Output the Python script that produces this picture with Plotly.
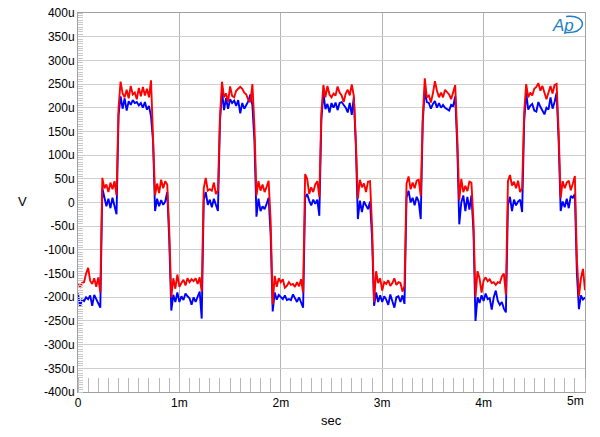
import plotly.graph_objects as go

# time step between samples (ms) and sample times
dt_ms = 0.02
n_samples = 251
t_ms = [round(i * dt_ms, 4) for i in range(n_samples)]

# Red trace (µV), read period by period
red_uV = [
    # period 1
    -172, -178, -170, -168, -150, -138, -165, -172, -160, -178, -158, -190,
    52, 30, 38, 22, 42, 28, 45, 15,
    200, 255, 230, 222, 238, 220, 246, 228, 232, 218, 242, 224, 244, 226, 240, 222, 258,
    150,
    15, 40, 20, 48, 30, 45, 38,
    -60, -200, -160, -182, -152,
    # period 2
    -178, -170, -163, -175, -160, -168, -162, -166, -160, -172, -158, -188,
    30, 52, 25, 28, 25, 42, 18, 25,
    180, 255, 222, 230, 212, 245, 225, 222, 236, 240, 244, 240, 232, 228, 216, 212, 250,
    160,
    15, 45, 25, 38, 22, 33, 46,
    -40, -215, -155, -178, -160,
    # period 3
    -168, -162, -180, -176, -168, -174, -172, -178, -168, -177, -162, -190,
    60, 50, 18, 32, 22, 38, 45, 12,
    190, 248, 222, 246, 228, 222, 230, 226, 245, 232, 226, 212, 230, 238, 226, 249, 225,
    130,
    8, 48, 32, 40, 22, 44, 45,
    -50, -210, -145, -170, -160,
    # period 4
    -186, -168, -172, -164, -176, -170, -160, -174, -168, -170, -188, -176,
    40, 55, 28, 42, 30, 46, 48, 14,
    180, 262, 222, 226, 211, 230, 256, 236, 222, 232, 222, 238, 234, 228, 218, 236, 248,
    140,
    5, 50, 22, 35, 24, 44, 42,
    -40, -200, -145, -160, -190,
    # period 5
    -165, -158, -166, -162, -170, -168, -174, -168, -170, -156, -150, -195,
    45, 58, 36, 44, 30, 46, 22, 30,
    190, 250, 222, 232, 226, 240, 244, 252, 236, 246, 230, 218, 232, 246, 230, 248, 250,
    150,
    10, 45, 30, 42, 46, 26, 40, 56,
    -120, -198, -160, -140,
    # end
    -185,
]

# Blue trace (µV)
blue_uV = [
    # period 1
    -192, -220, -205, -208, -200, -204, -196, -218, -195, -205, -215, -222,
    30, 12, -8, 8, -12, 10, -5, -25,
    185, 224, 198, 220, 194, 214, 206, 216, 210, 212, 205, 210, 200, 212, 196, 204, 182,
    130,
    -18, 8, -8, 5, -5, 2, 22,
    -80, -228, -195, -210, -190,
    # period 2
    -210, -198, -206, -192, -198, -202, -216, -200, -210, -200, -188, -245,
    5, 22, -5, 6, -10, 8, -8, -18,
    170, 235, 195, 220, 198, 218, 210, 215, 204, 216, 188, 210, 198, 206, 214, 228, 205,
    130,
    -30, 8, -18, -8, -14, -3, 10,
    -70, -230, -190, -205, -195,
    # period 3
    -200, -204, -196, -206, -204, -206, -194, -204, -210, -200, -212, -222,
    10, 18, 4, -6, 6, -3, 6, -28,
    175, 232, 197, 208, 190, 210, 200, 211, 195, 210, 212, 205, 200, 190, 210, 185, 222,
    120,
    -35, 4, -20, 2, -8, -14, 2,
    -75, -218, -190, -210, -196,
    # period 4
    -210, -198, -205, -216, -194, -210, -222, -200, -198, -210, -196, -214,
    10, 25, 0, 10, -6, 12, 2, -35,
    170, 238, 212, 210, 198, 208, 214, 200, 210, 200, 206, 200, 196, 194, 206, 204, 224,
    120,
    -46, 0, 15, -18, 12, -15, 15,
    -60, -250, -200, -212, -196,
    # period 5
    -208, -192, -204, -202, -226, -200, -186, -208, -216, -210, -224, -232,
    -5, 12, -18, 6, -6, 2, 6, -20,
    170, 232, 196, 204, 208, 194, 192, 212, 202, 194, 186, 200, 196, 222, 198, 212, 232,
    130,
    -18, 2, -10, 8, -12, 14, 10, 18,
    -150, -225, -196, -205,
    # end
    -200,
]

y_tick_vals = list(range(400, -401, -50))
y_tick_text = ["400u", "350u", "300u", "250u", "200u", "150u", "100u", "50u", "0",
               "-50u", "-100u", "-150u", "-200u", "-250u", "-300u", "-350u", "-400u"]
x_tick_vals = [0, 1, 2, 3, 4, 5]
x_tick_text = ["0", "1m", "2m", "3m", "4m", "5m"]

# layout geometry (pixels)
W, H = 600, 437
ML, MR, MT, MB = 78, 15, 13, 45
PW, PH = W - ML - MR, H - MT - MB


def px_to_paper(px, py):
    return (px - ML) / PW, (H - MB - py) / PH


fig = go.Figure()
fig.add_trace(go.Scatter(x=t_ms[:len(blue_uV)], y=blue_uV, mode="lines",
                         line=dict(color="#0000ff", width=1.9), showlegend=False))
fig.add_trace(go.Scatter(x=t_ms[:len(red_uV)], y=red_uV, mode="lines",
                         line=dict(color="#ff0000", width=1.9), showlegend=False))

font = dict(family="Liberation Sans, Arial, sans-serif", size=12, color="#000000")

vx, vy = px_to_paper(22, 201)
sx, sy = px_to_paper(331, 420)
lx, ly = px_to_paper(563, 25)

# last x tick label sits right-aligned to the plot edge, as in the original
shown_x_text = x_tick_text[:-1] + [""]
last_x, last_y = px_to_paper(586, 401)


def P(px, py):
    x, y = px_to_paper(px, py)
    return f"{x:.5f},{y:.5f}"


swoosh = (f"M {P(566, 16.5)} C {P(577, 15)} {P(584, 20)} {P(582, 26)} "
          f"C {P(580, 31)} {P(573, 33)} {P(565, 32.5)}")

fig.update_layout(
    width=W, height=H,
    margin=dict(l=ML, r=MR, t=MT, b=MB, autoexpand=False),
    paper_bgcolor="white", plot_bgcolor="white",
    font=font,
    xaxis=dict(
        range=[0, 5], tickvals=x_tick_vals, ticktext=shown_x_text,
        showgrid=True, gridcolor="#b4b4b4", gridwidth=1,
        showline=True, linecolor="#a0a0a0", linewidth=1, mirror=True,
        zeroline=False, ticks="", automargin=False,
        minor=dict(ticks="inside", dtick=0.1, ticklen=14, tickcolor="#b8b8b8", tickwidth=1, showgrid=False),
        tickfont=font,
    ),
    yaxis=dict(
        range=[-400, 400], tickvals=y_tick_vals, ticktext=y_tick_text,
        showgrid=True, gridcolor="#cfcfcf", gridwidth=1,
        showline=True, linecolor="#a0a0a0", linewidth=1, mirror=True,
        zeroline=False, ticks="", automargin=False,
        minor=dict(ticks="inside", dtick=5, ticklen=5, tickcolor="#c8c8c8", tickwidth=1, showgrid=False),
        tickfont=font,
    ),
    annotations=[
        dict(text="V", x=vx, y=vy, xref="paper", yref="paper", showarrow=False,
             xanchor="center", yanchor="middle",
             font=dict(family="Liberation Sans, Arial, sans-serif", size=13)),
        dict(text="sec", x=sx, y=sy, xref="paper", yref="paper", showarrow=False,
             xanchor="center", yanchor="middle",
             font=dict(family="Liberation Sans, Arial, sans-serif", size=13)),
        dict(text=x_tick_text[-1], x=last_x, y=last_y, xref="paper", yref="paper",
             showarrow=False, xanchor="right", yanchor="middle", font=font),
        dict(text="<i>Ap</i>", x=lx, y=ly, xref="paper", yref="paper",
             showarrow=False, xanchor="center", yanchor="middle",
             font=dict(family="Liberation Sans, Arial, sans-serif", size=17, color="#1f7fc4")),
    ],
    shapes=[
        dict(type="path", xref="paper", yref="paper", path=swoosh,
             line=dict(color="#1f7fc4", width=1.5)),
    ],
)

fig.write_html("out.html")
